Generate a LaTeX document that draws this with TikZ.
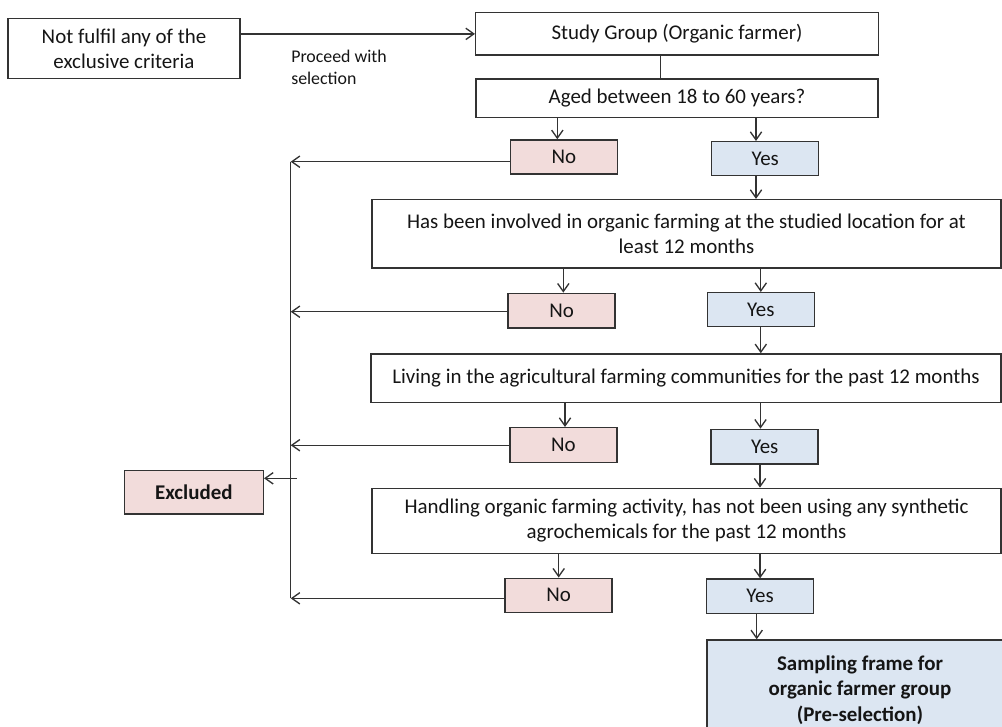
\documentclass[tikz,border=0pt]{standalone}
\usepackage{fontspec}
\setmainfont{Carlito}
\usetikzlibrary{arrows.meta}
\newlength\px
\setlength\px{0.75pt}
\definecolor{edge}{HTML}{333333}
\definecolor{ink}{HTML}{151515}
\definecolor{nofill}{HTML}{F2DCDB}
\definecolor{yesfill}{HTML}{DCE6F2}
\tikzset{
  box/.style={draw=edge, line width=1.1pt, inner sep=0pt, align=center, text=ink,
    font=\fontsize{15.7}{18.8}\selectfont},
  nobox/.style={box, fill=nofill, minimum width=107\px, minimum height=34\px},
  yesbox/.style={box, fill=yesfill, minimum width=107\px, minimum height=34\px},
  wide/.style={box, minimum width=629\px},
  link/.style={draw=edge, line width=1pt},
  arr/.style={link, -{Straight Barb[length=6pt,width=8.5pt,line width=1pt]}},
}
\begin{document}
\begin{tikzpicture}[x=0.75pt,y=-0.75pt]
\useasboundingbox (0,0) rectangle (1002,726);

% entry boxes
\node[box, minimum width=232\px, minimum height=60\px] (notful) at (124,48.5)
  {Not fulfil any of the\\exclusive criteria};
\node[box, minimum width=402.6\px, minimum height=42.3\px] (study) at (677,33.9)
  {Study Group (Organic farmer)};
\node[anchor=west, align=left, inner sep=0pt, text=ink,
  font=\fontsize{13.4}{16.3}\selectfont] (proceed) at (291,67.5)
  {Proceed with\\selection};
\node[box, minimum width=402\px, minimum height=38.7\px] (aged) at (677,98.3)
  {Aged between 18 to 60 years?};

% criterion 1
\node[nobox] (no1) at (563.8,157) {No};
\node[yesbox] (yes1) at (765.2,158.7) {Yes};

% criterion 2
\node[wide, minimum height=68.3\px] (crit2) at (686.5,233.8)
  {Has been involved in organic farming at the studied location for at\\least 12 months};
\node[nobox, minimum height=34.7\px] (no2) at (561.7,310.7) {No};
\node[yesbox] (yes2) at (760.8,309.7) {Yes};

% criterion 3
\node[wide, minimum width=630\px, minimum height=48.7\px] (crit3) at (686,378.3)
  {Living in the agricultural farming communities for the past 12 months};
\node[nobox, minimum height=35\px] (no3) at (563.3,445.2) {No};
\node[yesbox, minimum height=34.7\px] (yes3) at (764.7,446.7) {Yes};

% criterion 4
\node[wide, minimum height=65\px] (crit4) at (686.5,520.8)
  {Handling organic farming activity, has not been using any synthetic\\agrochemicals for the past 12 months};
\node[nobox] (no4) at (558.7,595.3) {No};
\node[yesbox, minimum height=34.3\px] (yes4) at (760.1,596.2) {Yes};

% outcomes
\node[box, fill=nofill, minimum width=139\px, minimum height=43.3\px,
  font=\fontsize{15.7}{18.8}\selectfont\bfseries] (excl) at (193.8,492.3) {Excluded};
\node[box, fill=yesfill, minimum width=306\px, minimum height=100\px,
  font=\fontsize{15.7}{19.2}\selectfont\bfseries] (frame) at (860,690)
  {Sampling frame for\\organic farmer group\\(Pre-selection)};

% rail collecting the rejections
\coordinate (railtop) at (290.7,161.7);
\coordinate (railbot) at (290.7,598.3);
\coordinate (railout) at (296.7,478.3);
\draw[link] (railtop) -- (railbot);

% main flow
\draw[arr] (notful.east |- study.west) -- (study.west);
\draw[link] ([xshift=-16.7\px]study.south) -- ([xshift=-16.7\px]study.south |- aged.north);
\draw[arr] ([xshift=-6.5\px]no1.north |- aged.south) -- ([xshift=-6.5\px]no1.north);
\draw[arr] ([xshift=-9.2\px]yes1.north |- aged.south) -- ([xshift=-9.2\px]yes1.north);
\draw[arr] ([xshift=-9.2\px]yes1.south) -- ([xshift=-9.2\px]yes1.south |- crit2.north);
\draw[arr] ([xshift=1.6\px]no2.north |- crit2.south) -- ([xshift=1.6\px]no2.north);
\draw[arr] (yes2.north |- crit2.south) -- (yes2.north);
\draw[arr] (yes2.south) -- (yes2.south |- crit3.north);
\draw[arr] ([xshift=1.7\px]no3.north |- crit3.south) -- ([xshift=1.7\px]no3.north);
\draw[arr] ([xshift=-4.2\px]yes3.north |- crit3.south) -- ([xshift=-4.2\px]yes3.north);
\draw[arr] ([xshift=-4.7\px]yes3.south) -- ([xshift=-4.7\px]yes3.south |- crit4.north);
\draw[arr] (no4.north |- crit4.south) -- (no4.north);
\draw[arr] (yes4.north |- crit4.south) -- (yes4.north);
\draw[arr] ([xshift=-3.4\px]yes4.south) -- ([xshift=-3.4\px]yes4.south |- frame.north);

% rejections to the rail
\draw[arr] ([yshift=-4.7\px]no1.west) -- ([yshift=-4.7\px]no1.west -| railtop);
\draw[arr] ([yshift=-1\px]no2.west) -- ([yshift=-1\px]no2.west -| railtop);
\draw[arr] (no3.west) -- (no3.west -| railtop);
\draw[arr] ([yshift=-3\px]no4.west) -- ([yshift=-3\px]no4.west -| railtop);
\draw[arr] (railout) -- (railout -| excl.east);
\end{tikzpicture}
\end{document}
